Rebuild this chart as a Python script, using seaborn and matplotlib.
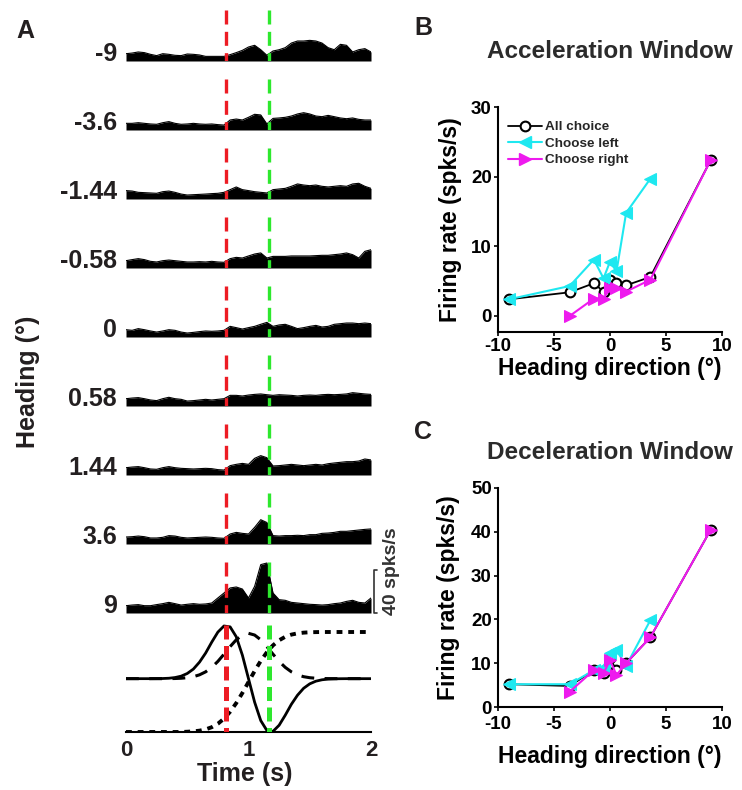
import numpy as np
import pandas as pd
import matplotlib
matplotlib.use('Agg')
import matplotlib.pyplot as plt
import seaborn as sns
from matplotlib.lines import Line2D

sns.set_theme(style='ticks')
plt.rcParams['font.family'] = ['Liberation Sans', 'DejaVu Sans']
plt.rcParams['font.weight'] = 'bold'
plt.rcParams['axes.labelweight'] = 'bold'

TXT = '#231f20'
RED = '#ed1c24'
GREEN = '#2ee82e'
CYAN = '#1ee8f0'
MAGENTA = '#ee1aee'

# ---------------- Panel A data ----------------
heading_labels = ['-9', '-3.6', '-1.44', '-0.58', '0', '0.58', '1.44', '3.6', '9']
time_s = [0.00, 0.05, 0.10, 0.15, 0.20, 0.25, 0.30, 0.35, 0.40, 0.45,
          0.50, 0.55, 0.60, 0.65, 0.70, 0.75, 0.80, 0.85, 0.90, 0.95,
          1.00, 1.05, 1.10, 1.15, 1.20, 1.25, 1.30, 1.35, 1.40, 1.45,
          1.50, 1.55, 1.60, 1.65, 1.70, 1.75, 1.80, 1.85, 1.90, 1.95, 2.00]

psth_m9 = [6.8, 7.4, 8.4, 7.8, 6.2, 5.0, 6.8, 6.2, 5.3, 5.0, 6.5, 6.2, 5.6, 4.3, 4.3, 4.3, 4.3,
           5.9, 7.8, 9.9, 13.0, 14.6, 10.5, 5.3, 9.3, 10.5, 12.4, 16.7, 18.6, 18.6, 19.2,
           18.6, 16.7, 12.4, 10.5, 15.5, 14.6, 8.4, 10.5, 11.5, 8.4]
psth_m3_6 = [6.2, 6.2, 6.8, 6.2, 5.6, 5.3, 6.8, 7.8, 6.2, 5.3, 5.6, 6.2, 5.6, 5.3, 5.6, 5.0, 4.6,
             9.3, 10.2, 9.3, 11.8, 14.6, 14.0, 5.6, 10.8, 11.2, 11.8, 13.0, 14.9, 16.1, 14.9,
             13.0, 12.4, 13.6, 12.4, 11.2, 10.5, 11.2, 9.9, 9.3, 9.3]
psth_m1_44 = [7.8, 7.4, 6.2, 5.9, 5.6, 5.3, 6.8, 7.4, 6.2, 4.6, 3.7, 4.0, 4.3, 4.6, 5.0, 5.3, 6.2,
              8.7, 11.2, 8.7, 7.8, 6.8, 6.2, 5.6, 8.7, 9.3, 9.9, 11.8, 14.0, 13.0, 12.4,
              13.0, 11.8, 11.2, 11.8, 12.4, 11.8, 14.0, 14.6, 11.8, 9.9]
psth_m0_58 = [6.8, 7.8, 8.7, 7.8, 6.2, 5.6, 6.8, 7.4, 6.8, 6.2, 5.6, 5.6, 5.9, 5.6, 6.2, 5.6, 5.3,
              8.7, 9.9, 9.3, 11.2, 13.0, 14.0, 9.3, 10.8, 10.8, 10.8, 11.2, 11.2, 11.2, 11.2,
              11.5, 11.8, 11.8, 12.4, 13.0, 14.0, 12.4, 9.3, 15.5, 17.0]
psth_0 = [6.8, 6.2, 7.8, 6.8, 5.6, 4.6, 5.6, 6.8, 6.2, 4.6, 3.7, 4.3, 5.0, 5.6, 5.3, 5.6, 6.2,
          9.9, 8.7, 7.4, 8.7, 9.9, 11.8, 13.6, 9.9, 11.2, 11.8, 9.9, 7.8, 8.7, 9.9,
          10.8, 9.3, 9.9, 11.8, 12.4, 13.0, 13.0, 12.4, 13.0, 12.4]
psth_p0_58 = [6.8, 7.4, 7.8, 6.8, 5.6, 5.0, 6.8, 8.1, 6.8, 6.2, 4.6, 5.0, 5.6, 6.2, 5.6, 6.2, 6.8,
              9.9, 9.9, 9.3, 10.2, 10.8, 11.2, 10.5, 9.9, 10.5, 10.2, 9.9, 9.3, 9.9, 10.2,
              9.9, 10.5, 10.8, 10.5, 10.8, 11.2, 12.4, 11.8, 11.2, 10.8]
psth_p1_44 = [6.8, 7.4, 7.8, 6.8, 5.6, 5.3, 6.8, 7.8, 6.8, 6.2, 5.9, 5.6, 5.9, 6.2, 5.9, 5.0, 4.6,
              8.7, 9.9, 10.8, 9.9, 15.5, 18.0, 16.1, 8.4, 8.7, 9.3, 9.9, 9.3, 8.7, 9.3,
              9.9, 9.3, 10.5, 11.2, 11.8, 12.4, 12.4, 13.0, 14.9, 14.0]
psth_p3_6 = [6.5, 6.8, 7.4, 6.8, 5.6, 5.6, 6.2, 7.8, 7.4, 6.2, 5.6, 5.9, 6.2, 6.5, 6.2, 5.6, 5.3,
             9.3, 10.8, 9.9, 9.3, 15.5, 22.6, 20.0, 7.8, 7.4, 7.8, 7.8, 8.1, 7.8, 8.7,
             8.7, 9.9, 10.2, 10.8, 11.8, 11.8, 12.4, 13.0, 13.6, 14.0]
psth_p9 = [6.8, 7.4, 7.8, 6.8, 6.8, 7.8, 8.7, 9.9, 8.7, 7.4, 8.1, 8.7, 8.1, 8.4, 9.3, 14.0, 18.6,
           23.3, 24.2, 22.3, 14.0, 24.8, 45.0, 46.5, 18.6, 12.4, 11.8, 9.9, 9.3, 8.7, 8.1,
           7.8, 7.4, 7.8, 8.7, 9.3, 10.8, 11.8, 9.9, 9.3, 14.0]
psth_rows = [psth_m9, psth_m3_6, psth_m1_44, psth_m0_58, psth_0,
             psth_p0_58, psth_p1_44, psth_p3_6, psth_p9]

event_times = [0.82, 1.17]   # red: peak acceleration, green: peak deceleration

# Motion profile (normalised)
acceleration = [0, 0, 0, 0, 0, 0.001, 0.003, 0.008, 0.021, 0.047, 0.097, 0.18, 0.31, 0.48,
                0.685, 0.873, 0.988, 0.971, 0.786, 0.441, 0.0, -0.441, -0.786, -0.971,
                -0.988, -0.873, -0.685, -0.48, -0.31, -0.18, -0.097, -0.047, -0.021,
                -0.008, -0.003, -0.001, 0, 0, 0, 0, 0]
velocity = [0, 0, 0, 0, 0, 0, 0, 0.001, 0.003, 0.008, 0.018, 0.037, 0.072, 0.128, 0.212,
            0.324, 0.459, 0.601, 0.729, 0.818, 0.85, 0.818, 0.729, 0.601, 0.459, 0.324,
            0.212, 0.128, 0.072, 0.037, 0.018, 0.008, 0.003, 0.001, 0, 0, 0, 0, 0, 0, 0]
position = [-1, -1, -1, -1, -1, -1, -1, -1, -1, -1, -0.995, -0.988, -0.975, -0.951, -0.910,
            -0.845, -0.750, -0.620, -0.458, -0.268, -0.0625, 0.143, 0.333, 0.495, 0.625,
            0.720, 0.785, 0.826, 0.850, 0.863, 0.870, 0.873, 0.875, 0.875, 0.875, 0.875,
            0.875, 0.875, 0.875, 0.875, 0.875]

# ---------------- Panels B / C data ----------------
heading_deg = [-9, -3.6, -1.44, -0.58, 0, 0.58, 1.44, 3.6, 9]
acc_all = [2.4, 3.4, 4.7, 3.5, 5.2, 4.7, 4.4, 5.6, 22.4]
acc_left = [2.4, 4.3, 8.1, 5.4, 7.8, 6.4, 14.8, 19.7, np.nan]
acc_right = [np.nan, 0.0, 2.5, 2.5, 4.0, 4.0, 3.5, 5.2, 22.4]
dec_all = [5.2, 4.8, 8.4, 7.7, 11.1, 8.4, 10.0, 15.9, 40.5]
dec_left = [5.2, 5.2, 8.4, 9.2, 12.4, 13.0, 9.4, 19.8, np.nan]
dec_right = [np.nan, 3.5, 8.4, 7.7, 10.7, 7.3, 10.0, 15.9, 40.5]
legend_labels = ['All choice', 'Choose left', 'Choose right']

W, H = 742, 790
fig = plt.figure(figsize=(W / 100, H / 100), dpi=100)


def fx(px):
    return px / W


def fy(py):
    return 1 - py / H


# ---------------- Panel A ----------------
x0, x1 = 126, 371
row_h = 64.5
baselines = [61, 130, 199, 268, 337, 406, 475, 544, 613]
for i, (lab, rates) in enumerate(zip(heading_labels, psth_rows)):
    b = baselines[i]
    ax = fig.add_axes([fx(x0), fy(b), (x1 - x0) / W, row_h / H])
    ax.fill_between(time_s, 0, rates, color='black', lw=0)
    sns.lineplot(x=time_s, y=rates, ax=ax, color='black', lw=0.8)
    for t, c in zip(event_times, [RED, GREEN]):
        ax.plot([t, t], [47, 0], color=c, lw=2.4, dashes=(4.2, 2.2), zorder=5,
                solid_capstyle='butt')
    ax.set_xlim(0, 2)
    ax.set_ylim(0, 60)
    ax.axis('off')
    fig.text(fx(117), fy(b - 7), lab, ha='right', va='center', fontsize=18,
             fontweight='bold', color=TXT)
    if i == len(heading_labels) - 1:
        ax.plot([2.05, 2.025, 2.025, 2.05], [40, 40, 0, 0], color='#333333', lw=1.2,
                clip_on=False)

fig.text(fx(392), fy(571), '40 spks/s', rotation=90, ha='center', va='center',
         fontsize=14, fontweight='bold', color='#333333')
fig.text(fx(28), fy(382), 'Heading (°)', rotation=90, ha='center', va='center',
         fontsize=18, fontweight='bold', color=TXT)

# motion profile
axm = fig.add_axes([fx(x0), fy(732), (x1 - x0) / W, 112 / H])
sns.lineplot(x=time_s, y=position, ax=axm, color='black', lw=2.8)
axm.lines[-1].set_dashes((1.5, 1.5))
sns.lineplot(x=time_s, y=velocity, ax=axm, color='black', lw=2.2)
axm.lines[-1].set_dashes((4.2, 3.4))
sns.lineplot(x=time_s, y=acceleration, ax=axm, color='black', lw=2.0)
for t, c in zip(event_times, [RED, GREEN]):
    axm.plot([t, t], [1.0, -1.0], color=c, lw=3.6, dashes=(2.8, 1.3), zorder=6)
axm.set_xlim(0, 2)
axm.set_ylim(-1, 1.1)
for s in ['left', 'right', 'top']:
    axm.spines[s].set_visible(False)
axm.spines['bottom'].set_linewidth(1.5)
axm.spines['bottom'].set_color('black')
axm.set_yticks([])
axm.set_xticks([0, 1, 2])
axm.set_xticklabels(['0', '1', '2'])
axm.tick_params(axis='x', length=0, pad=6, labelsize=16, labelcolor=TXT)
axm.set_xlabel('Time (s)', fontsize=18, fontweight='bold', color=TXT)
axm.xaxis.set_label_coords(0.485, -0.27)
axm.set_ylabel('')
axm.patch.set_alpha(0)

fig.text(fx(25), fy(31), 'A', ha='center', va='center', fontsize=18,
         fontweight='bold', color=TXT)


# ---------------- Panels B / C ----------------
def firing_panel(rect, ylim, yticks, all_v, left_v, right_v, xlab_y, ylab_x, with_legend,
                 xpad=1.5):
    ax = fig.add_axes(rect)
    df = pd.DataFrame({'heading': heading_deg, 'all': all_v, 'left': left_v, 'right': right_v})
    sns.lineplot(data=df, x='heading', y='all', ax=ax, color='black', lw=1.3, sort=False,
                 marker='o', markersize=7, markerfacecolor='white', markeredgecolor='black',
                 markeredgewidth=1.5, zorder=3)
    sns.lineplot(data=df.dropna(subset=['left']), x='heading', y='left', ax=ax, color=CYAN,
                 lw=1.5, sort=False, marker='<', markersize=9, markerfacecolor=CYAN,
                 markeredgecolor=CYAN, zorder=4)
    sns.lineplot(data=df.dropna(subset=['right']), x='heading', y='right', ax=ax,
                 color=MAGENTA, lw=1.5, sort=False, marker='>', markersize=9,
                 markerfacecolor=MAGENTA, markeredgecolor=MAGENTA, zorder=5)
    ax.set_xlim(-10, 10)
    ax.set_ylim(*ylim)
    ax.set_xticks([-10, -5, 0, 5, 10])
    ax.set_xticklabels(['-10', '-5', '0', '5', '10'])
    ax.set_yticks(yticks)
    ax.set_yticklabels([str(v) for v in yticks])
    for s in ['right', 'top']:
        ax.spines[s].set_visible(False)
    for s in ['left', 'bottom']:
        ax.spines[s].set_linewidth(1.5)
        ax.spines[s].set_color('black')
    ax.tick_params(direction='out', length=3, width=1.2, labelsize=13.5, pad=1.5,
                   labelcolor='black', color='black')
    ax.tick_params(axis='x', pad=xpad)
    ax.set_xlabel('Heading direction (°)', fontsize=16.5, fontweight='bold', color='black')
    ax.set_ylabel('Firing rate (spks/s)', fontsize=16.5, fontweight='bold', color='black')
    ax.xaxis.set_label_coords(0.5, xlab_y)
    ax.yaxis.set_label_coords(ylab_x, 0.5)
    ax.patch.set_alpha(0)
    if with_legend:
        handles = [
            Line2D([], [], color='black', lw=1.3, marker='o', markersize=7,
                   markerfacecolor='white', markeredgecolor='black', markeredgewidth=1.5),
            Line2D([], [], color=CYAN, lw=1.5, marker='<', markersize=9,
                   markerfacecolor=CYAN, markeredgecolor=CYAN),
            Line2D([], [], color=MAGENTA, lw=1.5, marker='>', markersize=9,
                   markerfacecolor=MAGENTA, markeredgecolor=MAGENTA),
        ]
        leg = ax.legend(handles, legend_labels, loc='upper left',
                        bbox_to_anchor=(fx(508), fy(121)), bbox_transform=fig.transFigure,
                        frameon=False, fontsize=9.7, handlelength=2.5, handletextpad=0.25,
                        labelspacing=0.3, borderpad=0, borderaxespad=0, numpoints=1)
        for t in leg.get_texts():
            t.set_fontweight('bold')
    elif ax.get_legend() is not None:
        ax.get_legend().remove()
    return ax


axB = firing_panel([fx(498), fy(332), 224 / W, (332 - 107) / H], (-2.3, 30),
                   [0, 10, 20, 30], acc_all, acc_left, acc_right, -0.11, -0.16, True)
axC = firing_panel([fx(498), fy(707), 224 / W, (707 - 488) / H], (0, 50),
                   [0, 10, 20, 30, 40, 50], dec_all, dec_left, dec_right, -0.175, -0.17,
                   False, xpad=3.5)

fig.text(fx(423), fy(28), 'B', ha='center', va='center', fontsize=18,
         fontweight='bold', color=TXT)
fig.text(fx(423), fy(432), 'C', ha='center', va='center', fontsize=18,
         fontweight='bold', color=TXT)
fig.text(fx(610), fy(52), 'Acceleration Window', ha='center', va='center', fontsize=17.5,
         fontweight='bold', color='#2b2b2b')
fig.text(fx(610), fy(452), 'Deceleration Window', ha='center', va='center', fontsize=17.5,
         fontweight='bold', color='#2b2b2b')

fig.savefig('out.png', dpi=100)
